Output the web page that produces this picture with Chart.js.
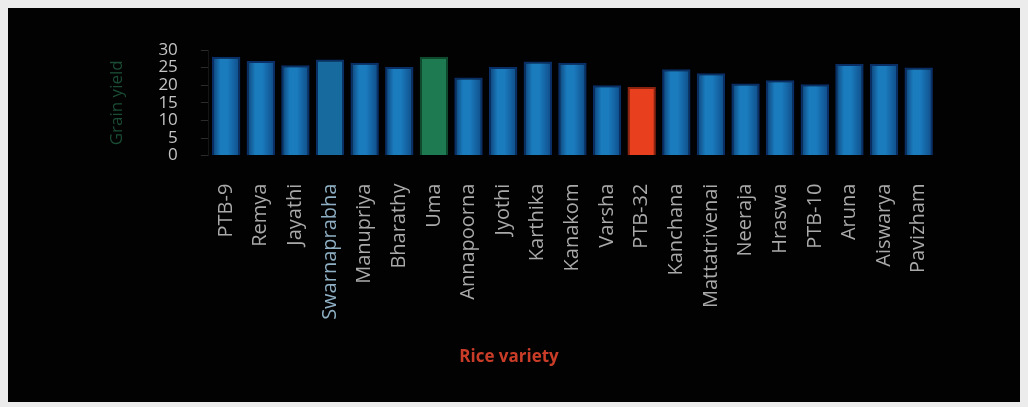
<!DOCTYPE html>
<html lang="en">
<head>
  <meta charset="UTF-8">
  <title>Rice variety - grain yield</title>
  <script src="https://cdn.jsdelivr.net/npm/chart.js"></script>
  <style>
    body { margin: 0; background: #ececec; }
    .panel { position: absolute; left: 8px; top: 8px; width: 1012px; height: 394px; background: #020202; }
    .chartBox { position: absolute; left: 0; top: 0; width: 992px; height: 394px; }
  </style>
</head>
<body>
  <div class="panel">
    <div class="chartBox"><canvas id="barChart"></canvas></div>
  </div>

  <script>
    // variedades y rendimiento
    const varieties = ['PTB-9', 'Remya', 'Jayathi', 'Swarnaprabha', 'Manupriya', 'Bharathy', 'Uma',
      'Annapoorna', 'Jyothi', 'Karthika', 'Kanakom', 'Varsha', 'PTB-32', 'Kanchana',
      'Mattatrivenai', 'Neeraja', 'Hraswa', 'PTB-10', 'Aruna', 'Aiswarya', 'Pavizham'];
    const grainYield = [28.1, 26.9, 25.7, 27.3, 26.4, 25.2, 28.1,
      22.2, 25.2, 26.7, 26.4, 20.0, 19.5, 24.5,
      23.4, 20.5, 21.4, 20.3, 26.0, 26.0, 25.0];
    const yTicks = [0, 5, 10, 15, 20, 25, 30];

    const barColors = varieties.map(v => v === 'Uma' ? '#1e7a50' : (v === 'PTB-32' ? '#e8401f' : (v === 'Swarnaprabha' ? '#176a9e' : '#1a7bbd')));
    const edgeColors = varieties.map(v => v === 'Uma' ? '#0f4a2e' : (v === 'PTB-32' ? '#8a2410' : '#0a2f66'));

    // degradado horizontal para que cada barra parezca un cilindro
    const cylinder = (context) => {
      const base = barColors[context.dataIndex];
      const xScale = context.chart.scales.x;
      if (!xScale || !context.chart.chartArea) return base;
      const cx = xScale.getPixelForValue(context.dataIndex);
      const half = 14;
      const g = context.chart.ctx.createLinearGradient(cx - half, 0, cx + half, 0);
      g.addColorStop(0, '#0d3f73');
      g.addColorStop(0.3, base);
      g.addColorStop(0.55, base);
      g.addColorStop(1, '#0f4a86');
      if (base !== '#1a7bbd') {
        return base;
      }
      return g;
    };

    const ctx = document.getElementById('barChart').getContext('2d');
    const barChart = new Chart(ctx, {
      type: 'bar',
      data: {
        labels: varieties,
        datasets: [{
          data: grainYield,
          backgroundColor: cylinder,
          borderColor: edgeColors,
          borderWidth: 2,
          categoryPercentage: 0.82,
          barPercentage: 1
        }]
      },
      options: {
        responsive: true,
        maintainAspectRatio: false,
        animation: false,
        layout: {
          padding: { left: 74, right: 64, top: 42, bottom: 0 }
        },
        plugins: {
          legend: { display: false },
          tooltip: { enabled: false },
          title: {
            display: true,
            position: 'bottom',
            text: 'Rice variety',
            color: '#c93d28',
            font: { family: 'Open Sans', size: 17, weight: 'bold' },
            padding: { top: 15, bottom: 35 }
          }
        },
        scales: {
          x: {
            grid: { display: false },
            border: { display: false },
            ticks: {
              color: ctx => ctx.index === 3 ? '#8fb0c4' : '#a9a9a9',
              font: { family: 'Open Sans', size: 20 },
              maxRotation: 90,
              minRotation: 90,
              autoSkip: false,
              padding: 20
            }
          },
          y: {
            min: 0,
            max: 30,
            afterBuildTicks: axis => { axis.ticks = yTicks.map(v => ({ value: v })); },
            grid: { drawOnChartArea: false, tickLength: 8, color: '#2a2a2a' },
            border: { color: '#151515' },
            ticks: {
              color: '#c4c4c4',
              font: { family: 'Open Sans', size: 17 },
              autoSkip: false,
              padding: 23
            },
            title: {
              display: true,
              text: 'Grain yield',
              color: '#1b4d36',
              font: { family: 'Open Sans', size: 17 },
              padding: { top: 25, bottom: 8 }
            }
          }
        }
      }
    });
  </script>
</body>
</html>
